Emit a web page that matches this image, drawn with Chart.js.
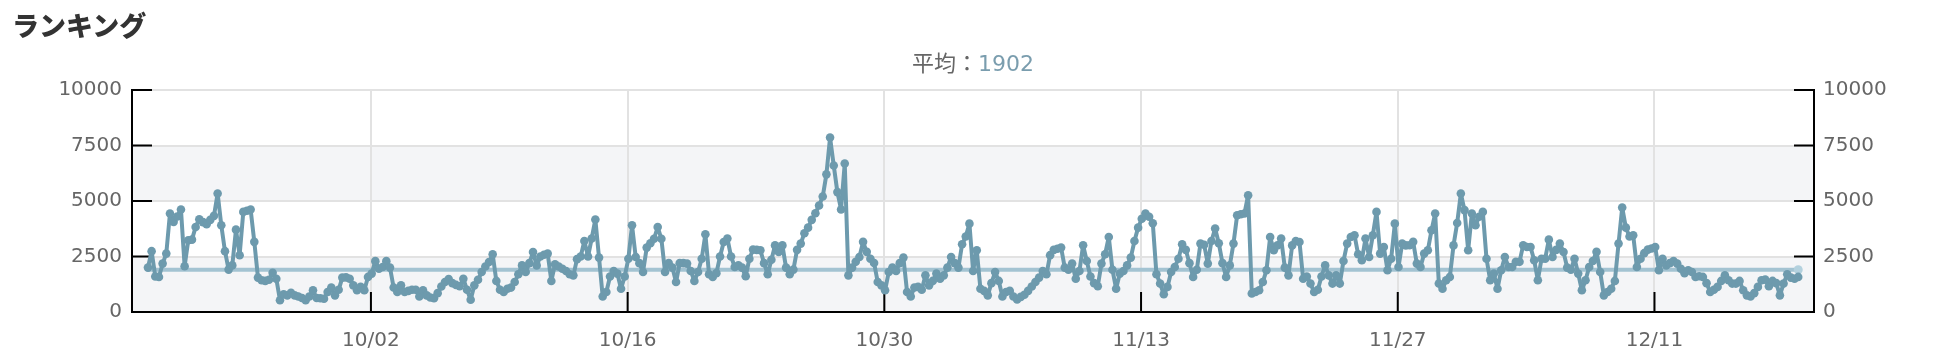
<!DOCTYPE html>
<html lang="ja">
<head>
<meta charset="utf-8">
<title>ランキング</title>
<script src="https://cdn.jsdelivr.net/npm/chart.js@4.4.1/dist/chart.umd.min.js"></script>
<style>
  body { margin: 0; background: #fff; }
  #wrap { position: relative; width: 1947px; height: 364px; }
  #wrap canvas { position: absolute; left: 0; top: 0; }
  h2 {
    position: absolute; left: 12px; top: 11px; margin: 0;
    font: 900 27px/27px "Noto Sans CJK JP", sans-serif; color: #333;
  }
  #avg {
    position: absolute; left: 132px; width: 1682px; top: 53px;
    text-align: center; font: 22px/22px "DejaVu Sans", "Noto Sans CJK JP", sans-serif; color: #666;
  }
  #avg span { color: #7a9dae; }
</style>
</head>
<body>
<div id="wrap">
  <canvas id="myChart" width="1947" height="364"></canvas>
  <h2>ランキング</h2>
  <div id="avg">平均：<span id="avgValue"></span></div>
</div>
<script>
// days are counted from 10/02
const tickDays = [0, 14, 28, 42, 56, 70];
const tickLabels = ['10/02', '10/16', '10/30', '11/13', '11/27', '12/11'];
const firstDay = -12.16;
const stepDay = 0.2;
const averageValue = 1902;
const rankValues = [
  2000,2740,1600,1580,2180,2630,4440,4060,4300,4620,
  2060,3230,3260,3830,4180,4050,3950,4150,4330,5340,
  3910,2740,1910,2100,3710,2560,4510,4560,4620,3160,
  1550,1430,1400,1450,1770,1500,530,800,750,860,
  750,700,630,530,700,980,630,620,600,900,
  1100,750,1000,1550,1560,1500,1200,980,1130,980,
  1580,1730,
  2290,1950,2030,2290,2000,1100,900,1200,900,950,
  1000,1000,700,980,750,650,620,850,1150,1350,
  1480,1300,1220,1160,1500,1000,550,1200,1450,1800,
  2050,2250,2600,1400,1000,900,1050,1100,1350,1700,
  2100,1800,2200,2700,2100,2500,2580,2630,1400,2150,
  2050,1950,1850,1700,1650,2380,2500,3200,2500,3310,
  4170,2450,700,900,1600,1850,1730,1050,1600,
  2400,3910,2480,2200,1800,2900,3100,3300,3830,3300,
  1800,2200,2000,1350,2200,2200,2180,1850,1400,1800,
  2400,3500,1700,1580,1750,2500,3150,3310,2500,2030,
  2100,2000,1610,2400,2810,2800,2780,2200,1700,2350,
  3000,2700,3000,2000,1700,1910,2800,3080,3550,3800,
  4150,4450,4800,5200,6200,7860,6600,5400,4620,6690,
  1650,2000,2260,2480,3160,2710,2400,2210,1350,1200,
  980,1800,2000,1850,2200,2450,900,700,1100,1130,
  1000,1650,1200,1400,1730,1500,1650,2000,2480,2200,
  2000,3050,3400,3980,1850,2780,1050,950,750,1300,
  1800,1400,700,900,950,700,560,680,780,950,
  1150,1350,1550,1850,1700,2560,2800,2850,2900,2000,
  1900,2180,1500,1850,3010,2300,1600,1300,1160,2180,
  2600,3380,1900,1050,1730,1850,2100,2450,3200,3800,
  4200,4440,4290,4000,1700,1280,800,1130,1800,2030,
  2400,3050,2800,2200,1580,1900,3080,3030,2180,3200,
  3760,3100,2200,1580,2100,3080,4360,4400,4440,5260,
  830,900,980,1350,1880,3380,2780,3000,3310,2000,
  1650,3000,3200,3150,1500,1600,1280,900,1000,1600,
  2100,1650,1280,1650,1280,2300,3080,3380,3460,2600,
  2330,3310,2480,3460,4510,2630,2930,1880,2400,3980,2030,
  3080,3000,3010,3160,2180,2030,2630,2780,3680,4440,
  1280,1050,1430,1580,3000,4010,5340,4590,2780,4440,
  3910,4290,4510,2400,1430,1730,1050,1880,2480,2030,
  2030,2260,2260,3010,2930,2930,2330,1430,2400,2400,
  3260,2480,2800,3080,2700,2000,1900,2400,1730,980,
  1430,2030,2300,2710,1800,750,900,1050,1400,3080,
  4710,3800,3400,3460,2030,2400,2650,2810,2860,2930,
  1880,2400,2100,2200,2300,2180,1950,1750,1880,1800,
  1580,1610,1580,1300,900,1000,1130,1400,1650,1430,
  1280,1280,1400,980,750,700,850,1130,1430,1460,
  1160,1400,1300,750,1280,1700,1550,1500,1580
];

document.getElementById('avgValue').textContent = averageValue;

const points = rankValues.map((v, i) => ({ x: firstDay + i * stepDay, y: v }));
const lastDay = firstDay + (rankValues.length - 1) * stepDay;

// grey bands, and the short black tick marks inside the frame
const frame = {
    id: 'frame',
    beforeDraw(chart) {
        const { ctx, chartArea: a, scales } = chart;
        ctx.save();
        ctx.fillStyle = '#f4f5f7';
        [[0, 2500], [5000, 7500]].forEach(([lo, hi]) => {
            const y1 = scales.y.getPixelForValue(hi);
            const y2 = scales.y.getPixelForValue(lo);
            ctx.fillRect(a.left, y1, a.right - a.left, y2 - y1);
        });
        ctx.restore();
    },
    beforeDatasetsDraw(chart) {
        const { ctx, chartArea: a, scales } = chart;
        ctx.save();
        ctx.strokeStyle = '#000';
        ctx.lineWidth = 2;
        ctx.beginPath();
        scales.y.ticks.forEach(t => {
            const y = scales.y.getPixelForValue(t.value);
            ctx.moveTo(a.left, y); ctx.lineTo(a.left + 20, y);
            ctx.moveTo(a.right - 20, y); ctx.lineTo(a.right, y);
        });
        tickDays.forEach(d => {
            const x = scales.x.getPixelForValue(d);
            ctx.moveTo(x, a.bottom); ctx.lineTo(x, a.bottom - 20);
        });
        ctx.stroke();
        ctx.restore();
    }
};

Chart.defaults.font.family = '"DejaVu Sans", sans-serif';
Chart.defaults.font.size = 20;
Chart.defaults.color = '#666';

var ctx = document.getElementById('myChart');

var myChart = new Chart(ctx, {
    type: 'line',
    data: {
        datasets: [
            {
                label: 'ランキング',
                data: points,
                borderColor: '#6d9aad',
                backgroundColor: '#6d9aad',
                borderWidth: 4,
                borderJoinStyle: 'round',
                borderCapStyle: 'round',
                pointRadius: 4.3,
                pointBorderWidth: 0,
                tension: 0,
                order: 1
            },
            {
                label: '平均',
                data: [{ x: firstDay, y: averageValue }, { x: lastDay, y: averageValue }],
                borderColor: '#a3c3d2',
                backgroundColor: '#b3d1de',
                borderWidth: 4,
                pointRadius: [0, 4.5],
                pointBorderWidth: 0,
                order: 2
            }
        ]
    },
    options: {
        responsive: false,
        animation: false,
        layout: { padding: { top: 90, left: 0, right: 0, bottom: 0 } },
        plugins: {
            legend: { display: false },
            tooltip: { enabled: false }
        },
        scales: {
            x: {
                type: 'linear',
                min: -13.03,
                max: 78.7,
                afterFit: s => { s.height = 52; },
                afterBuildTicks: axis => { axis.ticks = tickDays.map(d => ({ value: d })); },
                grid: { color: '#e2e2e2', lineWidth: 2, drawTicks: false },
                border: { color: '#000', width: 2 },
                ticks: {
                    padding: 17,
                    maxRotation: 0,
                    callback: (val, idx) => tickLabels[idx]
                }
            },
            y: {
                position: 'left',
                min: 0,
                max: 10000,
                afterFit: s => { s.width = 132; },
                grid: { color: '#e2e2e2', lineWidth: 2, drawTicks: false },
                border: { color: '#000', width: 2 },
                ticks: { stepSize: 2500, padding: 10, callback: v => String(v) }
            },
            y2: {
                position: 'right',
                min: 0,
                max: 10000,
                afterFit: s => { s.width = 133; },
                grid: { drawOnChartArea: false, drawTicks: false },
                border: { color: '#000', width: 2 },
                ticks: { stepSize: 2500, padding: 9, callback: v => String(v) }
            }
        }
    },
    plugins: [frame]
});
</script>
</body>
</html>
